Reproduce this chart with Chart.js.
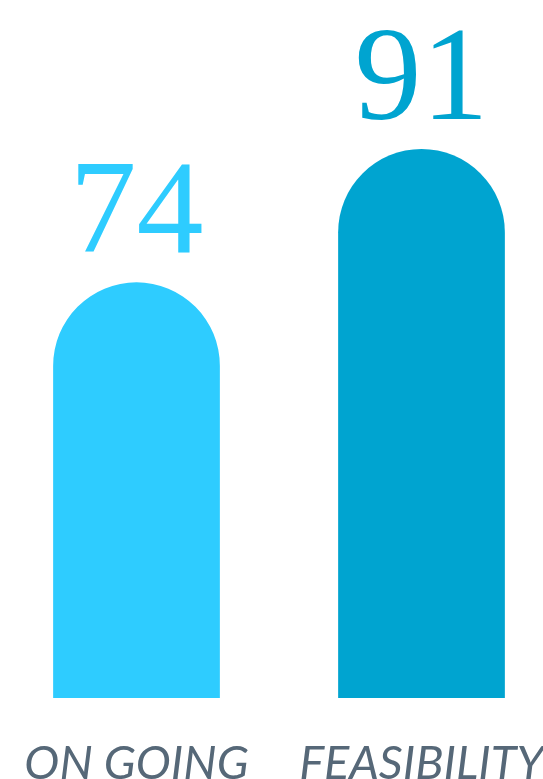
<!DOCTYPE html>
<html lang="en">
  <head>
    <meta charset="UTF-8" />
    <title>Status</title>
    <script src="https://cdn.jsdelivr.net/npm/chart.js"></script>
    <style>
      html,
      body {
        margin: 0;
        padding: 0;
        overflow: hidden;
        background: #fff;
      }
      #wrap {
        position: absolute;
        left: -6px;
        top: 0;
        width: 570px;
        height: 779px;
      }
    </style>
  </head>
  <body>
    <div id="wrap"><canvas id="chart"></canvas></div>
  </body>
  <script>
    const categories = ["ON GOING", "FEASIBILITY"];
    const values = [74, 91];
    const barColors = ["#2ECCFF", "#00A4D0"];

    // value labels above each bar
    const valueLabels = {
      id: "valueLabels",
      afterDatasetsDraw(chart) {
        const ctx = chart.ctx;
        const meta = chart.getDatasetMeta(0);
        ctx.save();
        ctx.font = "134px 'Liberation Serif'";
        ctx.textAlign = "center";
        ctx.textBaseline = "alphabetic";
        meta.data.forEach((bar, i) => {
          ctx.fillStyle = barColors[i];
          ctx.fillText(String(values[i]), bar.x, bar.y - 30);
        });
        ctx.restore();
      },
    };

    new Chart(document.getElementById("chart"), {
      type: "bar",
      data: {
        labels: categories,
        datasets: [
          {
            data: values,
            backgroundColor: barColors,
            borderRadius: { topLeft: 999, topRight: 999 },
            borderSkipped: "bottom",
            barPercentage: 0.585,
            categoryPercentage: 1,
          },
        ],
      },
      options: {
        responsive: true,
        maintainAspectRatio: false,
        animation: false,
        layout: { padding: 0 },
        plugins: {
          legend: { display: false },
          tooltip: { enabled: false },
        },
        scales: {
          y: {
            display: false,
            min: 21,
            max: 110,
          },
          x: {
            grid: { display: false, drawTicks: false },
            border: { display: false },
            ticks: {
              padding: 38,
              maxRotation: 0,
              autoSkip: false,
              color: "#566878",
              font: { family: "Lato", style: "italic", size: 47 },
            },
            // let the labels run past the canvas edges like the original
            afterFit(scale) {
              scale.paddingLeft = 0;
              scale.paddingRight = 0;
              scale.height = 81;
            },
          },
        },
      },
      plugins: [valueLabels],
    });
  </script>
</html>
